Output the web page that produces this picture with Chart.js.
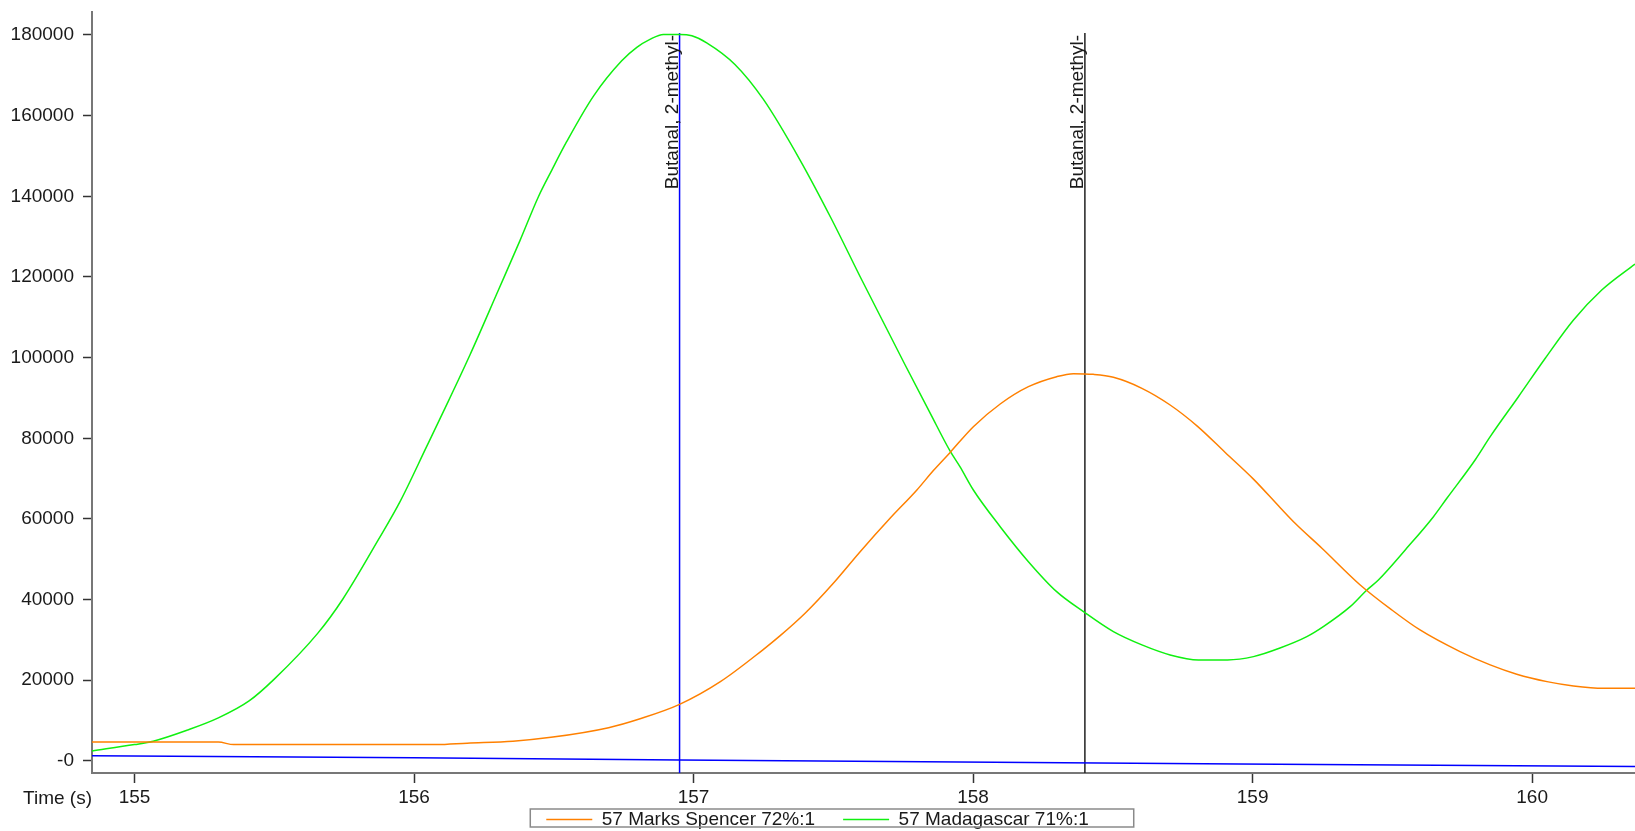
<!DOCTYPE html>
<html>
<head>
<meta charset="utf-8">
<title>Ion 57 chromatogram, 155–160 s</title>
<script src="https://cdn.jsdelivr.net/npm/chart.js@4.4.1/dist/chart.umd.min.js"></script>
<style>
  html, body { margin: 0; padding: 0; background: #ffffff; overflow: hidden; }
  #wrap { width: 1635px; height: 831px; overflow: hidden; }
  canvas { display: block; }
</style>
</head>
<body>
<div id="wrap"><canvas id="chrom" width="1635" height="839"></canvas></div>
<script>
// ---- series data (retention time in s, ion 57 abundance) ----
const seriesNames = ['57 Marks Spencer 72%:1', '57 Madagascar 71%:1'];

const spencerTime = [154.848, 155.30, 155.355, 156.08, 156.19, 156.354, 156.49, 156.696, 156.806, 156.95,
  157.096, 157.247, 157.309, 157.399, 157.500, 157.596, 157.703, 157.799, 157.858, 157.918,
  158.001, 158.097, 158.198, 158.299, 158.359, 158.430, 158.502, 158.604, 158.705, 158.803,
  158.902, 159.003, 159.098, 159.152, 159.248, 159.385, 159.498, 159.599,
  159.742, 159.850, 159.945, 160.053, 160.148, 160.255, 160.368];
const spencerSignal = [4660, 4660, 4040, 4040, 4400, 4880, 5840, 8240, 10400, 14030,
  19660, 27490, 30990, 36610, 44050, 51890, 60160, 67180, 72000, 76500,
  82870, 88500, 92790, 95270, 96020, 95850, 95120, 92390, 88250, 82960,
  76480, 69870, 62840, 58920, 52730, 43630, 37430, 32470,
  27100, 23800, 21490, 19660, 18590, 18010, 18010];

const madagascarTime = [154.848, 155.0, 155.067, 155.19, 155.30, 155.41, 155.50, 155.656, 155.745, 155.872,
  155.950, 156.045, 156.105, 156.200, 156.302, 156.379, 156.445, 156.493, 156.546, 156.642,
  156.743, 156.797, 156.844, 156.892, 156.952, 156.994, 157.047, 157.148, 157.250, 157.381,
  157.493, 157.602, 157.757, 157.846, 157.918, 157.953, 158.001, 158.097, 158.198, 158.299,
  158.395, 158.502, 158.604, 158.705, 158.806, 158.910, 159.003, 159.098, 159.194, 159.253,
  159.349, 159.409, 159.450, 159.546, 159.647, 159.695, 159.796, 159.850, 159.951, 160.047,
  160.148, 160.249, 160.368];
const madagascarSignal = [2480, 4040, 4880, 7650, 10660, 14870, 20280, 31680, 40090, 54790,
  64290, 77920, 86600, 100650, 116760, 129000, 139900, 146510, 153530, 164850,
  173600, 176930, 178910, 180150, 180150, 179800, 178060, 172700, 164020, 148990,
  134440, 119240, 98170, 86300, 76800, 72960, 67180, 58080, 49410, 41970,
  37010, 32050, 28760, 26280, 25040, 25040, 25860, 28000, 30820, 33300,
  38250, 42390, 44870, 52310, 60560, 65120, 74620, 80400, 90310, 99830,
  109320, 116760, 123210];

// drifting baseline trace
const baselineTime = [154.848, 156.0, 156.95, 158.95, 160.368];
const baselineSignal = [1300, 800, 200, -740, -1360];

// identified peaks
const peakMarkTime = [156.95, 158.40];
const peakMarkTop = [180500, 180500];
const peakMarkName = ['Butanal, 2-methyl-', 'Butanal, 2-methyl-'];
const peakMarkColor = ['#0000ff', '#222222'];

// axes
const timeTicks = [155, 156, 157, 158, 159, 160];
const signalTicks = [0, 20000, 40000, 60000, 80000, 100000, 120000, 140000, 160000, 180000];
const timeRange = [154.848, 160.368];
const signalRange = [-3000, 185700];
const timeAxisTitle = 'Time (s)';

// ---- chart ----
const FONT = { family: "'Liberation Sans', Arial, sans-serif", size: 19 };
const TEXT = '#1a1a1a';
const LEGEND_GAP = 28;

const pairs = (xs, ys) => xs.map((x, i) => ({ x: x, y: ys[i] }));

const datasets = [
  {
    label: seriesNames[0],
    data: pairs(spencerTime, spencerSignal),
    borderColor: '#ff8000',
    backgroundColor: '#ff8000',
    borderWidth: 1.5,
    pointRadius: 0,
    cubicInterpolationMode: 'monotone',
    inLegend: true
  },
  {
    label: seriesNames[1],
    data: pairs(madagascarTime, madagascarSignal),
    borderColor: '#10f010',
    backgroundColor: '#10f010',
    borderWidth: 1.5,
    pointRadius: 0,
    cubicInterpolationMode: 'monotone',
    inLegend: true
  },
  {
    label: 'baseline',
    data: pairs(baselineTime, baselineSignal),
    borderColor: '#0000ff',
    borderWidth: 1.5,
    pointRadius: 0,
    inLegend: false
  }
];

peakMarkTime.forEach((t, i) => {
  datasets.push({
    label: peakMarkName[i],
    data: [{ x: t, y: peakMarkTop[i] }, { x: t, y: signalRange[0] }],
    borderColor: peakMarkColor[i],
    borderWidth: 1.5,
    pointRadius: 0,
    inLegend: false
  });
});

// rotated compound names next to each peak line
const peakLabels = {
  id: 'peakLabels',
  afterDatasetsDraw(chart) {
    const { ctx, scales } = chart;
    ctx.save();
    ctx.font = `${FONT.size}px ${FONT.family}`;
    ctx.fillStyle = TEXT;
    ctx.textAlign = 'right';
    ctx.textBaseline = 'alphabetic';
    peakMarkTime.forEach((t, i) => {
      const px = scales.x.getPixelForValue(t);
      const py = scales.y.getPixelForValue(peakMarkTop[i]);
      ctx.save();
      ctx.translate(px - 1.5, py);
      ctx.rotate(-Math.PI / 2);
      ctx.fillText(peakMarkName[i], -2, 0);
      ctx.restore();
    });
    ctx.restore();
  }
};

// the legend uses a wide gap between entries; pull it up so its row sits
// just under the time labels instead of being pushed down by that gap
const legendRow = {
  id: 'legendRow',
  afterLayout(chart) {
    const lg = chart.legend;
    lg.top = chart.height - (LEGEND_GAP + FONT.size + 10);
    lg.bottom = chart.height;
    lg.height = lg.bottom - lg.top;
  }
};

// axis caption left of the time tick labels, and a frame round the legend
const decorations = {
  id: 'decorations',
  afterDraw(chart) {
    const { ctx, chartArea, legend } = chart;
    ctx.save();
    ctx.font = `${FONT.size}px ${FONT.family}`;
    ctx.fillStyle = TEXT;
    ctx.textAlign = 'right';
    ctx.textBaseline = 'alphabetic';
    ctx.fillText(timeAxisTitle, chartArea.left, chartArea.bottom + 31);

    const boxes = legend.legendHitBoxes;
    if (boxes && boxes.length) {
      const first = boxes[0];
      const last = boxes[boxes.length - 1];
      const left = first.left - 16;
      const right = last.left + last.width + 45;
      const top = first.top - 1;
      const bottom = first.top + 17;
      ctx.strokeStyle = '#8a8a8a';
      ctx.lineWidth = 1.5;
      ctx.strokeRect(left, top, right - left, bottom - top);
    }
    ctx.restore();
  }
};

new Chart(document.getElementById('chrom'), {
  type: 'line',
  data: { datasets },
  options: {
    responsive: false,
    animation: false,
    devicePixelRatio: 1,
    layout: { padding: { top: 12, left: 0, right: 0, bottom: 0 } },
    plugins: {
      tooltip: { enabled: false },
      legend: {
        position: 'bottom',
        maxHeight: 33,
        labels: {
          filter: (item, data) => data.datasets[item.datasetIndex].inLegend,
          usePointStyle: true,
          pointStyle: 'line',
          pointStyleWidth: 46,
          padding: LEGEND_GAP,
          color: TEXT,
          font: FONT
        }
      }
    },
    scales: {
      x: {
        type: 'linear',
        min: timeRange[0],
        max: timeRange[1],
        afterBuildTicks: (scale) => { scale.ticks = timeTicks.map(v => ({ value: v })); },
        afterFit: (scale) => { scale.height = 33; scale.paddingLeft = 0; scale.paddingRight = 0; },
        ticks: {
          color: TEXT,
          font: FONT,
          padding: 3,
          maxRotation: 0,
          autoSkip: false,
          callback: (v) => String(v)
        },
        grid: { drawOnChartArea: false, drawTicks: true, tickLength: 10, tickColor: '#333333', tickWidth: 1.5 },
        border: { display: true, color: '#777777', width: 2 }
      },
      y: {
        type: 'linear',
        min: signalRange[0],
        max: signalRange[1],
        afterBuildTicks: (scale) => { scale.ticks = signalTicks.map(v => ({ value: v })); },
        afterFit: (scale) => { scale.width = 92; scale.paddingTop = 0; scale.paddingBottom = 0; },
        ticks: {
          color: TEXT,
          font: FONT,
          padding: 9,
          autoSkip: false,
          callback: (v) => (v === 0 ? '-0' : String(v))
        },
        grid: { drawOnChartArea: false, drawTicks: true, tickLength: 9, tickColor: '#333333', tickWidth: 1.5 },
        border: { display: true, color: '#777777', width: 2 }
      }
    }
  },
  plugins: [peakLabels, legendRow, decorations]
});
</script>
</body>
</html>
